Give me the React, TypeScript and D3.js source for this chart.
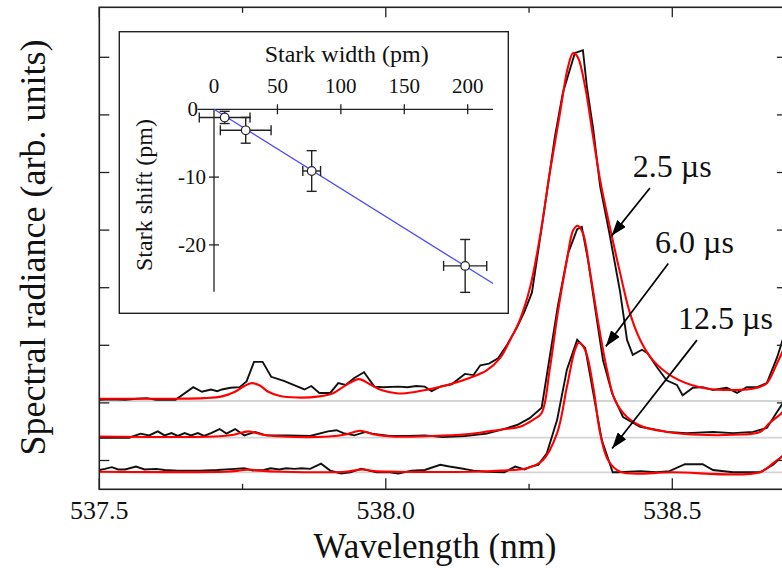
import React from "react";
import * as d3 from "d3";

// ---------- DATA ----------
const wlDomain: [number, number] = [537.5, 538.7];
const xMajorTicks = [537.5, 538.0, 538.5];
const xMinorTicks = [537.75, 538.25];
const yTicks = [0.5, 1.5, 2.5, 3.5, 4.5, 5.5, 6.5, 7.5];
const delayLabels = ["2.5 µs", "6.0 µs", "12.5 µs"];
const baselines = [1.533, 0.896, 0.295];

// measured spectra (relative intensity above each baseline)
const black25: [number, number][] = [
  [537.5, 0.02], [537.52, 0.03], [537.545, 0.02], [537.565, 0.04], [537.583, 0.05], [537.599, 0.02], [537.633, 0.02],
  [537.664, 0.24], [537.679, 0.16], [537.695, 0.2], [537.706, 0.17], [537.714, 0.2], [537.729, 0.23], [537.745, 0.24],
  [537.757, 0.34], [537.77, 0.68], [537.785, 0.68], [537.8, 0.42], [537.822, 0.35], [537.841, 0.27], [537.858, 0.2],
  [537.87, 0.26], [537.884, 0.14], [537.903, 0.14], [537.917, 0.31], [537.93, 0.28], [537.945, 0.4], [537.962, 0.5],
  [537.98, 0.25], [537.995, 0.24], [538.022, 0.25], [538.038, 0.24], [538.053, 0.26], [538.068, 0.25], [538.08, 0.17],
  [538.095, 0.25], [538.115, 0.29], [538.138, 0.47], [538.153, 0.45], [538.165, 0.62], [538.18, 0.65], [538.196, 0.74],
  [538.212, 0.98], [538.229, 1.28], [538.242, 1.55], [538.255, 1.88], [538.274, 3.14], [538.295, 4.58], [538.309, 5.35],
  [538.33, 6.04], [538.344, 6.09], [538.351, 5.45], [538.362, 4.72], [538.374, 3.73], [538.391, 2.87], [538.409, 1.89],
  [538.421, 1.06], [538.431, 0.8], [538.447, 0.89], [538.457, 0.83], [538.473, 0.59], [538.49, 0.36], [538.508, 0.28],
  [538.518, 0.1], [538.536, 0.23], [538.553, 0.24], [538.571, 0.19], [538.595, 0.23], [538.613, 0.14], [538.63, 0.24],
  [538.648, 0.24], [538.665, 0.31], [538.683, 0.76], [538.691, 1.01], [538.7, 1.3],
];
const red25: [number, number][] = [
  [537.5, 0.04], [537.56, 0.04], [537.637, 0.04], [537.683, 0.05], [537.714, 0.08], [537.737, 0.16], [537.753, 0.26],
  [537.766, 0.31], [537.78, 0.27], [537.795, 0.16], [537.814, 0.09], [537.845, 0.06], [537.884, 0.08], [537.907, 0.13],
  [537.93, 0.27], [537.953, 0.38], [537.972, 0.29], [537.992, 0.19], [538.022, 0.13], [538.053, 0.16], [538.084, 0.22],
  [538.115, 0.3], [538.146, 0.4], [538.176, 0.53], [538.199, 0.74], [538.217, 1.06], [538.234, 1.41], [538.252, 1.98],
  [538.269, 2.85], [538.287, 4.01], [538.304, 5.0], [538.318, 5.8], [538.327, 6.04], [538.335, 5.97], [538.348, 5.45],
  [538.36, 4.7], [538.374, 3.84], [538.391, 3.02], [538.409, 2.22], [538.426, 1.53], [538.444, 1.06], [538.466, 0.71],
  [538.501, 0.42], [538.548, 0.24], [538.606, 0.19], [538.648, 0.23], [538.665, 0.31], [538.683, 0.66], [538.691, 0.83],
  [538.7, 1.05],
];
const black60: [number, number][] = [
  [537.5, 0.0], [537.552, 0.0], [537.572, 0.07], [537.587, 0.04], [537.602, 0.11], [537.614, 0.04], [537.626, 0.08],
  [537.637, 0.03], [537.649, 0.08], [537.66, 0.04], [537.672, 0.08], [537.683, 0.03], [537.695, 0.08], [537.71, 0.15],
  [537.722, 0.07], [537.737, 0.15], [537.753, 0.04], [537.772, 0.1], [537.791, 0.04], [537.83, 0.04], [537.868, 0.03],
  [537.899, 0.11], [537.914, 0.13], [537.926, 0.08], [537.945, 0.04], [537.965, 0.1], [537.976, 0.07], [538.007, 0.03],
  [538.038, 0.03], [538.068, 0.04], [538.099, 0.01], [538.138, 0.03], [538.176, 0.07], [538.199, 0.13], [538.229, 0.22],
  [538.251, 0.34], [538.272, 0.52], [538.286, 1.4], [538.3, 2.27], [538.318, 3.2], [538.334, 3.62], [538.342, 3.66],
  [538.353, 3.08], [538.365, 2.27], [538.379, 1.35], [538.395, 0.77], [538.414, 0.36], [538.444, 0.19], [538.491, 0.1],
  [538.525, 0.08], [538.571, 0.1], [538.606, 0.08], [538.641, 0.1], [538.665, 0.17], [538.683, 0.45], [538.691, 0.57],
  [538.7, 0.72],
];
const red60: [number, number][] = [
  [537.5, 0.02], [537.7, 0.02], [537.735, 0.05], [537.76, 0.11], [537.785, 0.05], [537.82, 0.02], [537.9, 0.02],
  [537.932, 0.06], [537.955, 0.12], [537.978, 0.06], [538.01, 0.02], [538.08, 0.03], [538.14, 0.06], [538.18, 0.11],
  [538.21, 0.15], [538.234, 0.19], [538.257, 0.31], [538.272, 0.43], [538.286, 1.18], [538.3, 2.16], [538.316, 3.08],
  [538.327, 3.6], [538.335, 3.68], [538.344, 3.55], [538.356, 2.91], [538.37, 2.04], [538.386, 1.18], [538.4, 0.65],
  [538.421, 0.36], [538.449, 0.19], [538.491, 0.1], [538.548, 0.05], [538.606, 0.05], [538.653, 0.1], [538.67, 0.26],
  [538.691, 0.43], [538.7, 0.55],
];
const black125: [number, number][] = [
  [537.5, 0.04], [537.51, 0.06], [537.522, 0.09], [537.533, 0.05], [537.545, 0.05], [537.564, 0.1], [537.579, 0.05],
  [537.599, 0.06], [537.614, 0.04], [537.637, 0.03], [537.676, 0.03], [537.706, 0.04], [537.737, 0.06], [537.753, 0.07],
  [537.768, 0.03], [537.787, 0.04], [537.799, 0.07], [537.814, 0.05], [537.826, 0.07], [537.841, 0.06], [537.853, 0.07],
  [537.868, 0.06], [537.887, 0.15], [537.903, 0.03], [537.922, -0.02], [537.938, 0.0], [537.957, 0.06], [537.984, 0.0],
  [538.007, 0.0], [538.022, -0.02], [538.045, 0.03], [538.068, 0.04], [538.095, 0.13], [538.111, 0.1], [538.13, 0.07],
  [538.153, 0.03], [538.176, 0.01], [538.207, 0.0], [538.226, 0.1], [538.242, 0.05], [538.253, 0.1], [538.266, 0.13],
  [538.281, 0.33], [538.299, 0.91], [538.316, 1.78], [538.334, 2.3], [538.348, 2.16], [538.362, 1.38], [538.377, 0.56],
  [538.396, 0.0], [538.405, 0.0], [538.444, 0.02], [538.473, 0.0], [538.495, 0.02], [538.522, 0.14], [538.553, 0.14],
  [538.571, 0.04], [538.606, 0.0], [538.653, 0.0], [538.676, 0.13], [538.691, 0.27], [538.7, 0.36],
];
const red125: [number, number][] = [
  [537.5, 0.01], [537.72, 0.01], [537.745, 0.03], [537.762, 0.05], [537.78, 0.03], [537.82, 0.01], [537.93, 0.01],
  [537.95, 0.04], [537.962, 0.05], [537.98, 0.02], [538.02, 0.01], [538.15, 0.01], [538.2, 0.03], [538.246, 0.07],
  [538.274, 0.21], [538.299, 0.68], [538.316, 1.48], [538.33, 2.12], [538.337, 2.25], [538.348, 2.12], [538.362, 1.48],
  [538.374, 0.68], [538.388, 0.21], [538.409, 0.01], [538.5, 0.0], [538.653, 0.0], [538.676, 0.16], [538.691, 0.27],
  [538.7, 0.35],
];
const measured = [black25, black60, black125];
const fitted = [red25, red60, red125];

// annotation anchors (wavelength, intensity)
const labelPos: [number, number][] = [[538.431, 5.43], [538.47, 4.1], [538.51, 2.78]];
const arrowFrom: [number, number][] = [[538.461, 5.23], [538.493, 3.92], [538.543, 2.59]];
const arrowTo: [number, number][] = [[538.394, 4.4], [538.384, 2.48], [538.395, 0.71]];

// inset: Stark width vs shift
const insetXTicks = [0, 50, 100, 150, 200];
const insetYTicks = [0, -10, -20];
const starkWidth = [8.4, 25, 77, 198];
const starkWidthErr = [20, 20, 7, 17];
const starkShift = [-1.2, -3.1, -9.1, -23.1];
const starkShiftErr = [0.9, 1.9, 3.0, 3.9];
const fitLine: [number, number][] = [[0, 0], [220, -25.7]];

// ---------- LAYOUT ----------
const W = 782, H = 568;
const L = 99.3, R = 786.9, T = 7.3, B = 489.3;
const FONT = "'Liberation Serif', 'Times New Roman', 'DejaVu Serif', serif";

export default function App() {
  const x = d3.scaleLinear().domain(wlDomain).range([L, R]);
  const y = d3.scaleLinear().domain([0, (B - T) / 57.6]).range([B, T]);
  const fmt = d3.format(".1f");

  const lineLin = (base: number) =>
    d3.line<[number, number]>().x((d) => x(d[0])).y((d) => y(base + d[1]));
  const lineSmooth = (base: number) =>
    d3.line<[number, number]>().x((d) => x(d[0])).y((d) => y(base + d[1])).curve(d3.curveCatmullRom.alpha(0.5));

  // inset scales
  const xi = d3.scaleLinear().domain([0, 200]).range([214, 467.7]);
  const yi = d3.scaleLinear().domain([0, -20]).range([109.3, 244.9]);
  const insetLine = d3.line<[number, number]>().x((d) => xi(d[0])).y((d) => yi(d[1]));

  return (
    <div style={{ position: "absolute", left: 0, top: 0, width: W, height: H, background: "#fff" }}>
      <svg width={W} height={H} style={{ display: "block" }} fontFamily={FONT}>
        <defs>
          <clipPath id="plotClip">
            <rect x={L} y={T} width={R - L} height={B - T} />
          </clipPath>
          <marker id="arrowHead" viewBox="0 0 16 11" refX="16" refY="5.5" markerWidth="16" markerHeight="11"
            markerUnits="userSpaceOnUse" orient="auto">
            <path d="M0,0 L16,5.5 L0,11 Z" fill="#000" />
          </marker>
        </defs>

        {/* baselines */}
        <g clipPath="url(#plotClip)">
          {baselines.map((b, i) => (
            <line key={"bl" + i} x1={L} x2={R} y1={y(b)} y2={y(b)} stroke="#d4d4d4" strokeWidth={1.8} />
          ))}
          {measured.map((s, i) => (
            <path key={"m" + i} d={lineLin(baselines[i])(s) || ""} fill="none" stroke="#111" strokeWidth={1.9}
              strokeLinejoin="miter" />
          ))}
          {fitted.map((s, i) => (
            <path key={"f" + i} d={lineSmooth(baselines[i])(s) || ""} fill="none" stroke="#ff0000" strokeWidth={2.1} />
          ))}
        </g>

        {/* frame */}
        <rect x={L} y={T} width={R - L} height={B - T} fill="none" stroke="#222" strokeWidth={1.6} />

        {/* y ticks (both sides) */}
        {yTicks.map((t) => (
          <g key={"yt" + t}>
            <line x1={L} x2={L + 10} y1={y(t)} y2={y(t)} stroke="#222" strokeWidth={1.3} />
            <line x1={R - 10} x2={R} y1={y(t)} y2={y(t)} stroke="#222" strokeWidth={1.3} />
          </g>
        ))}
        {/* x ticks (bottom & top) */}
        {xMajorTicks.map((t) => (
          <g key={"xt" + t}>
            <line x1={x(t)} x2={x(t)} y1={B} y2={B - 11} stroke="#222" strokeWidth={1.3} />
            <line x1={x(t)} x2={x(t)} y1={T} y2={T + 10} stroke="#222" strokeWidth={1.3} />
            <text x={x(t)} y={519} textAnchor="middle" fontSize={26} fill="#111">{fmt(t)}</text>
          </g>
        ))}
        {xMinorTicks.map((t) => (
          <g key={"xm" + t}>
            <line x1={x(t)} x2={x(t)} y1={B} y2={B - 5.5} stroke="#222" strokeWidth={1.3} />
            <line x1={x(t)} x2={x(t)} y1={T} y2={T + 5.5} stroke="#222" strokeWidth={1.3} />
          </g>
        ))}

        {/* axis titles */}
        <text x={435} y={558} textAnchor="middle" fontSize={35} fill="#111">Wavelength (nm)</text>
        <text transform="translate(45,247.5) rotate(-90)" textAnchor="middle" fontSize={36} fill="#111">
          Spectral radiance (arb. units)
        </text>

        {/* annotations */}
        {delayLabels.map((lab, i) => (
          <g key={"lab" + i}>
            <text x={x(labelPos[i][0])} y={y(labelPos[i][1])} fontSize={32} fill="#111">{lab}</text>
            <line x1={x(arrowFrom[i][0])} y1={y(arrowFrom[i][1])} x2={x(arrowTo[i][0])} y2={y(arrowTo[i][1])}
              stroke="#000" strokeWidth={1.7} markerEnd="url(#arrowHead)" />
          </g>
        ))}

        {/* inset */}
        <rect x={119.3} y={31.7} width={389} height={281.6} fill="#fff" stroke="#222" strokeWidth={1.4} />
        <text x={346.7} y={61.7} textAnchor="middle" fontSize={24} fill="#111">Stark width (pm)</text>
        <text transform="translate(152,195) rotate(-90)" textAnchor="middle" fontSize={24} fill="#111">
          Stark shift (pm)
        </text>
        <line x1={xi(-13)} x2={xi(220)} y1={yi(0)} y2={yi(0)} stroke="#222" strokeWidth={1.3} />
        <line x1={xi(0)} x2={xi(0)} y1={yi(0)} y2={yi(-26.9)} stroke="#222" strokeWidth={1.3} />
        {insetXTicks.map((t) => (
          <g key={"ixt" + t}>
            {t !== 0 && <line x1={xi(t)} x2={xi(t)} y1={yi(0) - 5} y2={yi(0) + 5} stroke="#222" strokeWidth={1.3} />}
            <text x={xi(t)} y={93.3} textAnchor="middle" fontSize={21} fill="#111">{t}</text>
          </g>
        ))}
        {insetYTicks.map((t) => (
          <g key={"iyt" + t}>
            {t !== 0 && <line x1={xi(0) - 5} x2={xi(0) + 5} y1={yi(t)} y2={yi(t)} stroke="#222" strokeWidth={1.3} />}
            <text x={t === 0 ? 198 : 206} y={yi(t) + 7} textAnchor="end" fontSize={21} fill="#111">{t}</text>
          </g>
        ))}
        <path d={insetLine(fitLine) || ""} stroke="#4a4aff" strokeWidth={1.3} fill="none" />
        {starkWidth.map((w, i) => {
          const cx = xi(w), cy = yi(starkShift[i]);
          const x0 = xi(w - starkWidthErr[i]), x1 = xi(w + starkWidthErr[i]);
          const y0 = yi(starkShift[i] + starkShiftErr[i]), y1 = yi(starkShift[i] - starkShiftErr[i]);
          return (
            <g key={"pt" + i} stroke="#222" strokeWidth={1.4}>
              <line x1={x0} x2={x1} y1={cy} y2={cy} />
              <line x1={x0} x2={x0} y1={cy - 5} y2={cy + 5} />
              <line x1={x1} x2={x1} y1={cy - 5} y2={cy + 5} />
              <line x1={cx} x2={cx} y1={y0} y2={y1} />
              <line x1={cx - 5} x2={cx + 5} y1={y0} y2={y0} />
              <line x1={cx - 5} x2={cx + 5} y1={y1} y2={y1} />
              <circle cx={cx} cy={cy} r={4.3} fill="#fff" strokeWidth={1.2} />
            </g>
          );
        })}
      </svg>
    </div>
  );
}
